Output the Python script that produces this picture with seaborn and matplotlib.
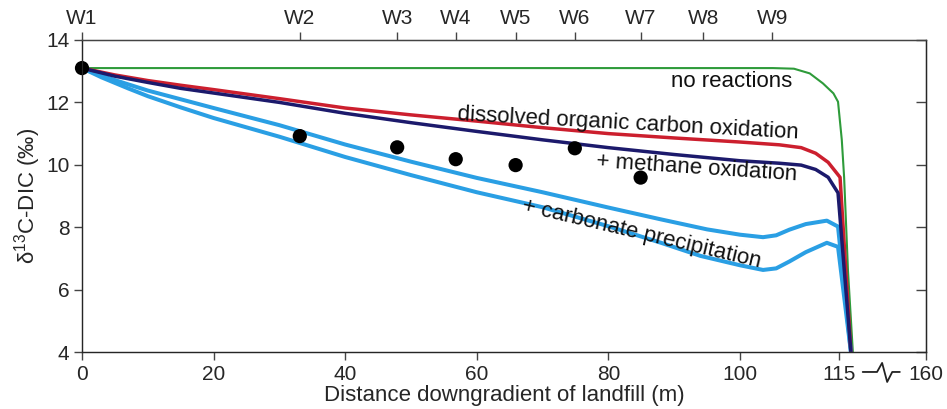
import numpy as np
import pandas as pd
import matplotlib
matplotlib.use("Agg")
import matplotlib.pyplot as plt
import seaborn as sns

# model curves: distance downgradient (m) vs d13C-DIC (permil)
no_rxn_x = [0, 60, 105, 108.2, 110.6, 112.6, 114.2, 114.9, 116.6, 117.8, 119.8, 122.3]
no_rxn_y = [13.1, 13.1, 13.1, 13.08, 12.93, 12.61, 12.29, 12.02, 10.8, 9.6, 6.6, 4.0]

doc_x = [0, 5, 10, 15, 20, 30, 40, 50, 60, 70, 80, 90, 100, 106, 109.3, 111.5, 113.4, 115.7, 121.3]
doc_y = [13.1, 12.88, 12.7, 12.55, 12.41, 12.12, 11.82, 11.6, 11.4, 11.19, 11.0, 10.86, 10.73,
         10.64, 10.55, 10.37, 10.08, 9.6, 4.0]

meth_x = [0, 5, 10, 15, 20, 30, 40, 50, 60, 70, 80, 90, 100, 106, 109.3, 111.5, 113.4, 114.9, 121.3]
meth_y = [13.1, 12.84, 12.64, 12.45, 12.3, 12.0, 11.65, 11.35, 11.07, 10.8, 10.55, 10.33, 10.13,
          10.05, 9.99, 9.85, 9.6, 9.1, 4.0]

carb1_x = [0, 3, 7, 10, 15, 20, 30, 40, 50, 60, 70, 80, 88, 95, 100, 103.5, 105.5, 107.5,
           110, 113.2, 114.9, 121.3]
carb1_y = [13.1, 12.85, 12.58, 12.38, 12.1, 11.82, 11.27, 10.65, 10.1, 9.58, 9.12, 8.63, 8.25,
           7.93, 7.76, 7.68, 7.74, 7.92, 8.1, 8.21, 8.02, 4.0]

carb2_x = [0, 3, 7, 10, 15, 20, 30, 40, 50, 60, 70, 80, 88, 94, 100, 103.5, 105.5, 107.5,
           110, 113.2, 114.9, 121.3]
carb2_y = [13.1, 12.8, 12.45, 12.2, 11.84, 11.5, 10.9, 10.25, 9.67, 9.12, 8.64, 8.03, 7.5,
           7.08, 6.78, 6.63, 6.68, 6.9, 7.2, 7.5, 7.37, 4.0]

# measured wells
well_names = ["W1", "W2", "W3", "W4", "W5", "W6", "W7", "W8", "W9"]
well_pos = [0, 33.1, 47.9, 56.8, 65.9, 74.9, 84.9, 94.4, 104.9]
obs_x = [0, 33.1, 47.9, 56.8, 65.9, 74.9, 84.9]
obs_y = [13.1, 10.92, 10.56, 10.18, 9.99, 10.53, 9.59]

x_ticks = [0, 20, 40, 60, 80, 100, 115, 160]
y_ticks = [4, 6, 8, 10, 12, 14]

# broken axis: 115-160 m squeezed into the last bit of the axis
BREAK = 115
SQUEEZE = 13.27 / 45


def fwd(x):
    x = np.asarray(x, dtype=float)
    return np.where(x <= BREAK, x, BREAK + (x - BREAK) * SQUEEZE)


def inv(x):
    x = np.asarray(x, dtype=float)
    return np.where(x <= BREAK, x, BREAK + (x - BREAK) / SQUEEZE)


sns.set_style("ticks")
plt.rcParams["font.family"] = ["Liberation Sans", "DejaVu Sans"]
plt.rcParams["mathtext.default"] = "regular"

frames = []
for name, xs, ys in [("no reactions", no_rxn_x, no_rxn_y),
                     ("carb upper", carb1_x, carb1_y),
                     ("carb lower", carb2_x, carb2_y),
                     ("doc", doc_x, doc_y),
                     ("methane", meth_x, meth_y)]:
    frames.append(pd.DataFrame({"dist": xs, "d13c": ys, "model": name}))
curves = pd.concat(frames, ignore_index=True)

palette = {"no reactions": "#2e9b3a", "carb upper": "#2a9fe4", "carb lower": "#2a9fe4",
           "doc": "#cc1f2e", "methane": "#1c1a6c"}
widths = {"no reactions": 1.5, "carb upper": 2.9, "carb lower": 2.9,
          "doc": 2.5, "methane": 2.5}

fig = plt.figure(figsize=(9.47, 4.09), dpi=100)
ax = fig.add_axes([82 / 947, 1 - 352 / 409, 844 / 947, 312 / 409])
ax.set_xscale("function", functions=(fwd, inv))
ax.set_xlim(0, 160)
ax.set_ylim(4, 14)

sns.lineplot(data=curves, x="dist", y="d13c", hue="model", size="model",
             hue_order=list(palette), palette=palette, sizes=widths,
             estimator=None, sort=False, legend=False, ax=ax)
sns.scatterplot(x=obs_x, y=obs_y, color="black", s=105, edgecolor="none",
                zorder=5, clip_on=False, ax=ax)

ax.set_xticks(x_ticks, [str(t) for t in x_ticks])
ax.set_yticks(y_ticks)
ax.tick_params(axis="both", direction="out", length=6, width=1, color="#444",
               labelsize=15, pad=3, top=False, right=False)
for s in ax.spines.values():
    s.set_visible(True)
    s.set_color("#444")
    s.set_linewidth(1)

ax.set_xlabel("Distance downgradient of landfill (m)", fontsize=16)
ax.xaxis.set_label_coords(0.5, -0.105)
ax.set_ylabel("δ$^{13}$C-DIC (‰)", fontsize=16)
ax.yaxis.set_label_coords(-0.046, 0.5)

# well names along the top
top = ax.twiny()
top.set_xscale("function", functions=(fwd, inv))
top.set_xlim(0, 160)
top.set_xticks(well_pos, well_names)
top.tick_params(axis="x", direction="out", length=6, width=1, color="#444",
                labelsize=15, pad=3)
top.spines["top"].set_color("#444")

# plain inward ticks on the right spine
right = ax.secondary_yaxis("right")
right.set_yticks(y_ticks)
right.tick_params(direction="in", length=7, width=1, color="#444", labelright=False)
right.spines["right"].set_color("#444")

# axis break mark between 115 and 160
brk_x = [0.925, 0.942, 0.948, 0.954, 0.960, 0.969]
brk_y = [-0.064, -0.064, -0.035, -0.096, -0.064, -0.064]
ax.plot(brk_x, brk_y, transform=ax.transAxes, clip_on=False, color="#222", lw=1.3)

# curve labels
lab_kw = dict(fontsize=16, ha="center", va="baseline", rotation_mode="anchor", color="#111")
ax.text(98.8, 12.48, "no reactions", **lab_kw)
ax.text(82.9, 11.15, "dissolved organic carbon oxidation", rotation=-3.1, **lab_kw)
ax.text(93.4, 9.73, "+ methane oxidation", rotation=-3.8, **lab_kw)
ax.text(84.8, 7.62, "+ carbonate precipitation", rotation=-13.3, **lab_kw)

fig.savefig("out.png", dpi=100)
